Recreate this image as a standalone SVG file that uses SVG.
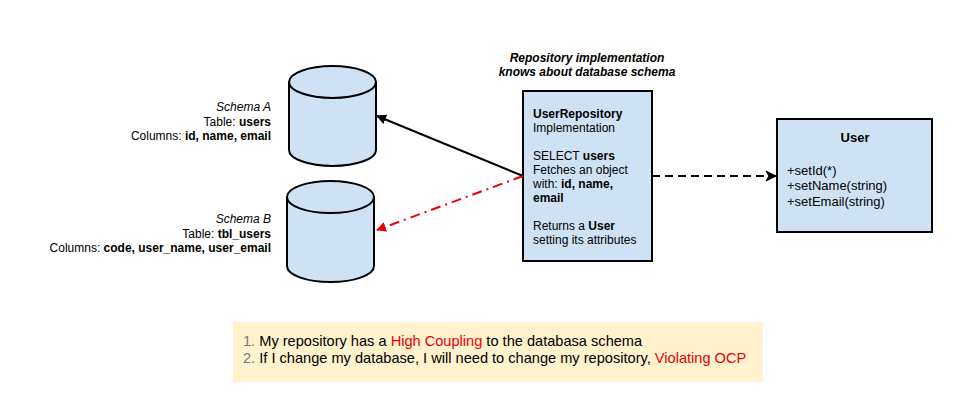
<svg xmlns="http://www.w3.org/2000/svg" width="971" height="410" viewBox="0 0 971 410">
<style>
text{font-family:"Liberation Sans",Arial,sans-serif;font-size:12px;fill:#000}
.b{font-weight:bold}
.i{font-style:italic}
.r{text-anchor:end}
.u{font-size:13px}
.shape{fill:#cfe2f3;stroke:#000;stroke-width:2}
.red{fill:#e8000b}
.num{fill:#777}
.leg{font-size:14.6px}
</style>
<defs>
<marker id="ab" viewBox="0 0 10 10" refX="9" refY="5" markerWidth="10" markerHeight="10" markerUnits="userSpaceOnUse" orient="auto">
<path d="M0,0 L10,5 L0,10 z" fill="#000"/>
</marker>
<marker id="ar" viewBox="0 0 10 10" refX="9" refY="5" markerWidth="10" markerHeight="10" markerUnits="userSpaceOnUse" orient="auto">
<path d="M0,0 L10,5 L0,10 z" fill="#e8000b"/>
</marker>
<marker id="ao" viewBox="0 0 12 12" refX="11" refY="6" markerWidth="12" markerHeight="12" markerUnits="userSpaceOnUse" orient="auto">
<path d="M1,1 L11,6 L1,11 L4,6 z" fill="#000" stroke="#000" stroke-width="1" stroke-linejoin="miter"/>
</marker>
</defs>
<rect width="971" height="410" fill="#fff"/>

<g id="schemaA">
<path class="shape" d="M289,82 L289,150 A43.5,16 0 0 0 376,150 L376,82 A43.5,16 0 0 0 289,82 z"/>
<path d="M289,82 A43.5,16 0 0 0 376,82" fill="none" stroke="#000" stroke-width="2"/>
<text class="r" x="271" y="111"><tspan class="i">Schema A</tspan></text>
<text class="r" x="271" y="125.5">Table: <tspan class="b">users</tspan></text>
<text class="r" x="271" y="140">Columns: <tspan class="b">id, name, email</tspan></text>
</g>

<g id="schemaB">
<path class="shape" d="M287,197 L287,266 A43.5,16 0 0 0 374,266 L374,197 A43.5,16 0 0 0 287,197 z"/>
<path d="M287,197 A43.5,16 0 0 0 374,197" fill="none" stroke="#000" stroke-width="2"/>
<text class="r" x="271" y="223"><tspan class="i">Schema B</tspan></text>
<text class="r" x="271" y="237.5">Table: <tspan class="b">tbl_users</tspan></text>
<text class="r" x="271" y="252">Columns: <tspan class="b">code, user_name, user_email</tspan></text>
</g>

<g id="title">
<text class="b i" x="587" y="62" text-anchor="middle">Repository implementation</text>
<text class="b i" x="587" y="76" text-anchor="middle">knows about database schema</text>
</g>

<g id="repository">
<rect class="shape" x="523" y="91" width="129" height="170"/>
<text x="533" y="118" class="b">UserRepository</text>
<text x="533" y="132">Implementation</text>
<text x="533" y="160">SELECT <tspan class="b">users</tspan></text>
<text x="533" y="174">Fetches an object</text>
<text x="533" y="188">with: <tspan class="b">id, name,</tspan></text>
<text x="533" y="202" class="b">email</text>
<text x="533" y="230">Returns a <tspan class="b">User</tspan></text>
<text x="533" y="244">setting its attributes</text>
</g>

<g id="user">
<rect class="shape" x="777" y="119" width="155" height="113"/>
<text x="855" y="141.5" class="b u" text-anchor="middle">User</text>
<text x="787" y="174.5" class="u">+setId(*)</text>
<text x="787" y="190" class="u">+setName(string)</text>
<text x="787" y="205.5" class="u">+setEmail(string)</text>
</g>

<g id="connectors">
<line x1="523" y1="176" x2="377" y2="116" stroke="#000" stroke-width="2" marker-end="url(#ab)"/>
<line x1="523" y1="176" x2="377" y2="230" stroke="#e8000b" stroke-width="2" stroke-dasharray="10,5,2,5" marker-end="url(#ar)"/>
<line x1="652" y1="176" x2="776" y2="176" stroke="#000" stroke-width="2" stroke-dasharray="8,5" marker-end="url(#ao)"/>
</g>

<g id="notes">
<rect x="233" y="322" width="530" height="60" fill="#fff2cc"/>
<text class="leg" x="243" y="346"><tspan class="num">1.</tspan> My repository has a <tspan class="red">High Coupling</tspan> to the databasa schema</text>
<text class="leg" x="243" y="363"><tspan class="num">2.</tspan> If I change my database, I will need to change my repository, <tspan class="red">Violating OCP</tspan></text>
</g>
</svg>
